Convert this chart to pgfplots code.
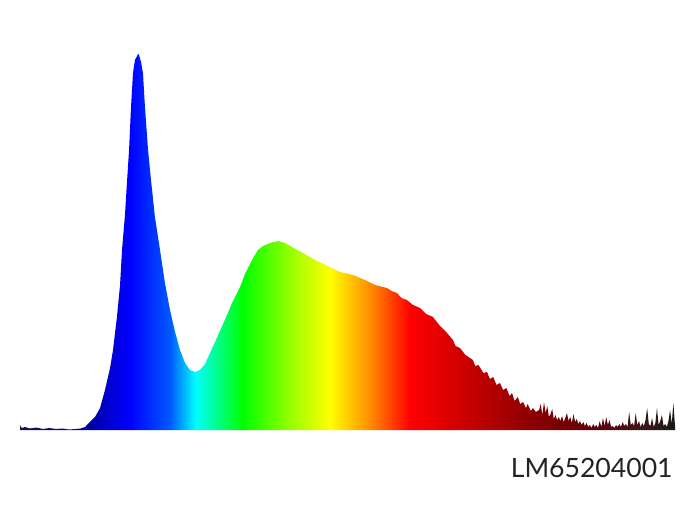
\documentclass[border=0pt]{standalone}
\usepackage{pgfplots}
\pgfplotsset{compat=1.18}
\usepackage{fontspec}
\setmainfont{Lato}
\definecolor{labelgray}{RGB}{35,35,35}
\pgfdeclarehorizontalshading{spectrum}{100bp}{%
rgb(0bp)=(0.08,0.08,0.31);
rgb(25bp)=(0.08,0.08,0.31);
rgb(29.81bp)=(0,0,0.59);
rgb(33.40bp)=(0,0,1);
rgb(36.45bp)=(0,0.35,1);
rgb(38.4bp)=(0,1,1);
rgb(42.0bp)=(0,1,0);
rgb(45.61bp)=(0.59,1,0);
rgb(48.66bp)=(1,1,0);
rgb(51.72bp)=(1,0.55,0);
rgb(54.77bp)=(1,0,0);
rgb(59.35bp)=(0.78,0,0);
rgb(63.93bp)=(0.55,0,0);
rgb(68.89bp)=(0.37,0,0.04);
rgb(72.33bp)=(0.24,0.08,0.1);
rgb(75bp)=(0.1,0.1,0.1);
rgb(100bp)=(0.1,0.1,0.1)}
\pgfplotstableread{
wl h
380.0 5
381.0 2
383.0 3
386.0 1.5
390.0 2.5
394.0 1
398.0 2
402.0 1
406.0 1.5
410.0 0.5
414.0 1
417.0 1.5
419.7 3
422.7 8
425.8 13
428.9 22
431.9 40
435.0 62
436.8 80
439.2 113
441.1 145
442.3 180
444.1 215
445.3 247
446.6 280
447.8 323
449.0 357
450.2 370
451.5 374
452.1 376
452.7 375
453.9 368
455.1 357
456.3 323
458.2 280
460.0 250
462.4 213
465.5 180
468.5 147
471.6 120
474.7 98
477.7 80
480.8 67
483.8 60
486.9 58
489.9 60
493.0 66
496.0 77
499.1 88
502.1 99
506.4 115
509.5 127
514.4 143
517.4 156
521.7 170
525.3 180
528.4 184
532.7 187
537.6 189
541.8 187
546.1 183
552.8 177
560.2 170
569.3 163
575.4 158
583.4 155
590.7 150
596.8 145
604.1 142
607.0 139
610.2 137
613.0 132
616.3 130
620.0 125
624.3 122
628.0 116
632.2 113
636.0 105
640.8 97
644.4 90
646.0 84
648.7 82
652.0 75
656.6 70
658.0 64
660.0 65
663.0 57
665.2 58
667.0 51
669.0 53
671.0 45
673.1 47
675.0 40
677.0 42
679.0 34
680.5 37
682.0 29
684.0 33
685.5 26
687.2 28
689.0 22
690.0 26
692.0 19
693.3 22
695.0 18
697 20
698 26
699 15
700 28
701 17
702 24
703 13
704 16
705 21
706 11
707 15
708 10
709 13
710 9
711 14
712 8
713 12
714 17
715 9
716 13
717 7
718 16
719 8
720 11
721 6
722 9
723 5
724 8
725 4
726 7
727 3
728 5
729 2
730 6
731 3
732 5
733 2
734 9
735 3
736 12
737 4
738 13
739 5
740 10
741 3
742 4
743 2
744 5
745 3
746 6
747 3
748 8
749 4
750 6
751 3
752 18
753 5
754 7
755 4
756 17
757 5
758 9
759 3
760 7
761 4
762 10
763 22
764 6
765 4
766 12
767 3
768 7
769 22
770 5
771 9
772 15
773 4
774 6
775 3
776 9
777 20
778 6
779 27
780 4
}\spec
\begin{document}
\begin{tikzpicture}
\useasboundingbox (0,0) rectangle (350pt,262.5pt);
\begin{axis}[
  at={(10pt,47.5pt)}, anchor=south west,
  scale only axis, width=327.5pt, height=188pt,
  hide axis, clip=false,
  xmin=380, xmax=780, ymin=0, ymax=376,
]
\addplot[draw=none, shade, shading=spectrum] table[x=wl, y=h] {\spec} \closedcycle;
\end{axis}
\node[anchor=base east, text=labelgray, font=\fontsize{13.3pt}{16pt}\selectfont, inner sep=0pt] at (336.5pt,24pt) {LM65204001};
\end{tikzpicture}
\end{document}
